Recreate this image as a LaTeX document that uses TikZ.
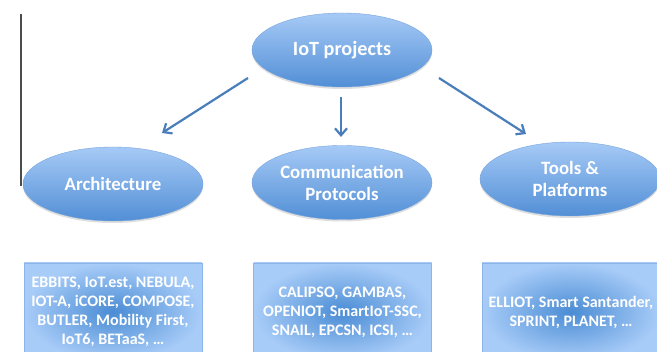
\documentclass[tikz,border=0pt]{standalone}
\usepackage{fontspec}
\setmainfont{Carlito}
\usetikzlibrary{shapes.geometric,arrows.meta,shadows}
\definecolor{elltop}{RGB}{166,202,246}
\definecolor{ellbot}{RGB}{82,143,214}
\definecolor{ellline}{RGB}{120,165,220}
\definecolor{boxin}{RGB}{74,140,212}
\definecolor{boxout}{RGB}{168,204,248}
\definecolor{boxline}{RGB}{140,180,230}
\definecolor{arrowc}{RGB}{74,126,187}
\tikzset{
  ell/.style={ellipse, minimum width=180pt, minimum height=74pt, inner sep=0pt,
    top color=elltop, bottom color=ellbot, draw=ellline, line width=0.4pt,
    drop shadow={shadow xshift=0pt, shadow yshift=-2pt, opacity=0.25},
    text=white, font=\bfseries\fontsize{20.2}{22}\selectfont, align=center},
  ellsub/.style={ell, font=\bfseries\fontsize{18.8}{22}\selectfont},
  listbox/.style={rectangle, minimum width=178pt, minimum height=98pt, inner sep=0pt,
    shading=radial, inner color=boxin, outer color=boxout, draw=boxline, line width=0.5pt,
    text=white, font=\bfseries\fontsize{16}{19}\selectfont, align=center},
  link/.style={draw=arrowc, line width=2.2pt, -{Straight Barb[length=7pt,width=12pt]}}
}
\begin{document}
\begin{tikzpicture}[x=1pt,y=-1pt]
\useasboundingbox (0,0) rectangle (657,352);
\clip (0,0) rectangle (657,352);
\fill[white] (0,0) rectangle (657,352);
\coordinate (vtop) at (21,14);
\coordinate (vbot) at (21,186);
\draw[black!70, line width=1.3pt] (vtop) -- (vbot);
\node[ell] (top) at (342,50) {IoT projects};
\node[ellsub] (arch) at (113,184) {Architecture};
\node[ellsub] (comm) at (342,182.5) {Communication\\Protocols};
\node[ellsub] (tools) at (570,179) {Tools \&\\Platforms};
\draw[link] ([shift={(-94,28)}]top.center) -- ([shift={(49,-51)}]arch.center);
\draw[link] ([shift={(-1,47)}]top.center) -- ([shift={(-1,-45.5)}]comm.center);
\draw[link] ([shift={(97,28)}]top.center) -- ([shift={(-44,-45)}]tools.center);
\node[listbox] (b1) at (113,312) {EBBITS, IoT.est, NEBULA,\\IOT-A, iCORE, COMPOSE,\\BUTLER, Mobility First,\\IoT6, BETaaS, \dots};
\node[listbox] (b2) at (342.5,312) {CALIPSO, GAMBAS,\\OPENIOT, SmartIoT-SSC,\\SNAIL, EPCSN, ICSI, \dots};
\node[listbox] (b3) at (571,312) {ELLIOT, Smart Santander,\\SPRINT, PLANET, \dots};
\end{tikzpicture}
\end{document}
